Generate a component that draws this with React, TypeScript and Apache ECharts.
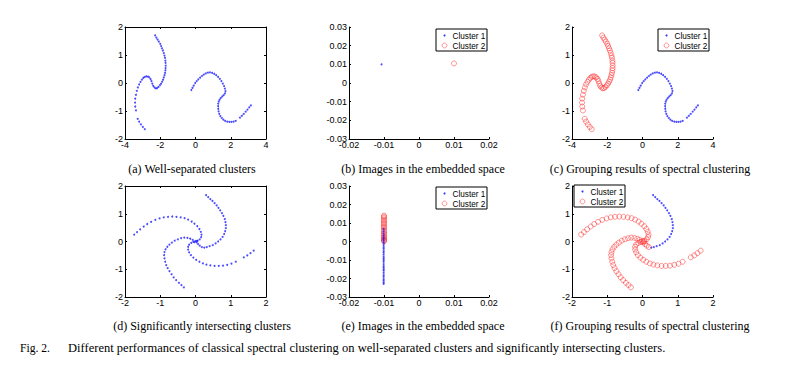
import React, { useEffect, useRef } from "react";
import * as echarts from "echarts";

// ---- data: well-separated clusters (panels a, c) ----
const sepLeft: number[][] = [
  [-2.29, 1.7], [-2.22, 1.62], [-2.15, 1.55], [-2.08, 1.48], [-2.0, 1.4], [-1.95, 1.32], [-1.9, 1.24],
  [-1.85, 1.16], [-1.8, 1.07], [-1.76, 0.98], [-1.73, 0.9], [-1.71, 0.8], [-1.7, 0.72], [-1.69, 0.62],
  [-1.7, 0.53], [-1.71, 0.45], [-1.73, 0.36], [-1.76, 0.28], [-1.8, 0.2], [-1.84, 0.12], [-1.89, 0.05],
  [-1.95, -0.02], [-2.02, -0.08], [-2.1, -0.14], [-2.18, -0.18], [-2.25, -0.19], [-2.33, -0.16],
  [-2.4, -0.1], [-2.45, -0.02], [-2.5, 0.07], [-2.55, 0.14], [-2.62, 0.2], [-2.7, 0.23], [-2.79, 0.24],
  [-2.88, 0.22], [-2.96, 0.18], [-3.04, 0.12], [-3.12, 0.04], [-3.2, -0.05], [-3.27, -0.16],
  [-3.33, -0.28], [-3.38, -0.42], [-3.42, -0.56], [-3.43, -0.7], [-3.42, -0.84], [-3.38, -0.98],
  [-3.28, -1.28], [-3.2, -1.38], [-3.1, -1.48], [-2.99, -1.57], [-2.88, -1.65],
];
const sepRight: number[][] = [
  [-0.24, -0.25], [-0.17, -0.17], [-0.1, -0.09], [-0.02, 0.0], [0.07, 0.07], [0.16, 0.13], [0.26, 0.19],
  [0.36, 0.25], [0.47, 0.3], [0.58, 0.34], [0.7, 0.37], [0.82, 0.38], [0.94, 0.36], [1.06, 0.33],
  [1.17, 0.28], [1.28, 0.22], [1.38, 0.15], [1.47, 0.07], [1.55, -0.02], [1.62, -0.11], [1.67, -0.2],
  [1.7, -0.29], [1.67, -0.37], [1.6, -0.43], [1.52, -0.48], [1.44, -0.53], [1.37, -0.59], [1.32, -0.66],
  [1.29, -0.74], [1.28, -0.83], [1.29, -0.92], [1.31, -1.01], [1.35, -1.1], [1.41, -1.18], [1.49, -1.25],
  [1.58, -1.31], [1.68, -1.35], [1.8, -1.38], [1.92, -1.39], [2.04, -1.39], [2.16, -1.38], [2.28, -1.35],
  [2.52, -1.24], [2.63, -1.17], [2.74, -1.1], [2.85, -1.02], [2.95, -0.95], [3.05, -0.87], [3.14, -0.8],
];

// ---- data: significantly intersecting clusters (panels d, f) ----
const intArmAOuter: number[][] = [
  [0.3, 1.67], [0.36, 1.6], [0.42, 1.53], [0.48, 1.46], [0.54, 1.38], [0.6, 1.3], [0.65, 1.21],
  [0.7, 1.12], [0.75, 1.02], [0.79, 0.92], [0.83, 0.81], [0.85, 0.7], [0.86, 0.59], [0.86, 0.48],
  [0.84, 0.37], [0.81, 0.27], [0.77, 0.17], [0.71, 0.08], [0.64, 0.0], [0.57, -0.07], [0.49, -0.13],
  [0.4, -0.17], [0.32, -0.2], [0.25, -0.22],
];
const intArmAInner: number[][] = [
  [0.18, -0.2], [0.12, -0.15], [0.07, -0.09], [0.03, -0.03], [0.0, 0.02], [0.04, 0.01], [-0.03, -0.02],
];
const intArmB: number[][] = [
  [-1.74, 0.25], [-1.66, 0.34], [-1.57, 0.44], [-1.47, 0.54], [-1.37, 0.63], [-1.26, 0.71], [-1.14, 0.78],
  [-1.02, 0.83], [-0.9, 0.87], [-0.78, 0.89], [-0.66, 0.9], [-0.54, 0.89], [-0.42, 0.87], [-0.31, 0.84],
  [-0.21, 0.79], [-0.11, 0.72], [-0.03, 0.64], [0.05, 0.55], [0.11, 0.45], [0.15, 0.35], [0.17, 0.25],
  [0.16, 0.16], [0.12, 0.08], [0.06, 0.03],
];
const intArmC: number[][] = [
  [1.65, -0.33], [1.56, -0.42], [1.47, -0.5], [1.37, -0.57], [1.14, -0.73], [1.02, -0.8], [0.9, -0.84],
  [0.78, -0.87], [0.66, -0.88], [0.54, -0.88], [0.42, -0.86], [0.31, -0.83], [0.21, -0.79], [0.11, -0.73],
  [0.02, -0.66], [-0.06, -0.58], [-0.13, -0.49], [-0.18, -0.39], [-0.21, -0.29], [-0.21, -0.19],
  [-0.18, -0.11], [-0.12, -0.05], [-0.06, -0.01],
];
const intArmD: number[][] = [
  [-0.33, -1.65], [-0.4, -1.57], [-0.47, -1.49], [-0.55, -1.39], [-0.62, -1.29], [-0.68, -1.18],
  [-0.74, -1.07], [-0.79, -0.96], [-0.83, -0.85], [-0.86, -0.73], [-0.88, -0.61], [-0.89, -0.49],
  [-0.88, -0.38], [-0.85, -0.28], [-0.8, -0.19], [-0.74, -0.11], [-0.67, -0.04], [-0.59, 0.03],
  [-0.5, 0.08], [-0.41, 0.12], [-0.32, 0.14], [-0.23, 0.13], [-0.15, 0.1], [-0.08, 0.06],
];

// ---- data: images in the embedded space (panels b, e) ----
const embedB1: number[][] = [[-0.0107, 0.01]];
const embedB2: number[][] = [[0.01, 0.0105]];
const embedE1: number[][] = [
  [-0.0101, 0.0068], [-0.0101, 0.0055], [-0.0101, 0.0042], [-0.0101, 0.003], [-0.0101, 0.002],
  [-0.0101, 0.0012], [-0.0101, 0.0003], [-0.0101, -0.0008], [-0.0101, -0.0019], [-0.0101, -0.0031],
  [-0.0101, -0.004], [-0.0101, -0.0052], [-0.0101, -0.006], [-0.0101, -0.0071], [-0.0101, -0.0083],
  [-0.0101, -0.0092], [-0.0101, -0.0101], [-0.0101, -0.011], [-0.0101, -0.0122], [-0.0101, -0.0133],
  [-0.0101, -0.0141], [-0.0101, -0.015], [-0.0101, -0.0158], [-0.0101, -0.017], [-0.0101, -0.0182],
  [-0.0101, -0.0191], [-0.0101, -0.0203], [-0.0101, -0.0212], [-0.0101, -0.0221], [-0.0101, -0.0229],
];
const embedE2: number[][] = [
  [-0.01, 0.014], [-0.01, 0.0135], [-0.01, 0.0128], [-0.01, 0.012], [-0.01, 0.0112], [-0.01, 0.0105],
  [-0.01, 0.0098], [-0.01, 0.009], [-0.01, 0.0082], [-0.01, 0.0075], [-0.01, 0.0068], [-0.01, 0.006],
  [-0.01, 0.0052], [-0.01, 0.0045], [-0.01, 0.0038], [-0.01, 0.003], [-0.01, 0.0024], [-0.01, 0.0018],
  [-0.01, 0.0012], [-0.01, 0.0008], [-0.01, 0.0004], [-0.01, 0.0001],
];

// ---- tick labels ----
const sepTicksX = [-4, -2, 0, 2, 4];
const sepTicksY = [-2, -1, 0, 1, 2];
const embTicksX = [-0.02, -0.01, 0, 0.01, 0.02];
const embTicksY = [-0.03, -0.02, -0.01, 0, 0.01, 0.02, 0.03];
const intTicksX = [-2, -1, 0, 1, 2];
const intTicksY = [-2, -1, 0, 1, 2];

const legendNames = ["Cluster 1", "Cluster 2"];
const captions = [
  "(a) Well-separated clusters",
  "(b) Images in the embedded space",
  "(c) Grouping results of spectral clustering",
  "(d) Significantly intersecting clusters",
  "(e) Images in the embedded space",
  "(f) Grouping results of spectral clustering",
];
const figCaptionLabel = "Fig. 2.";
const figCaptionText =
  "Different performances of classical spectral clustering on well-separated clusters and significantly intersecting clusters.";

const SERIF = "'Liberation Serif', 'Times New Roman', serif";
const SANS = "'Liberation Sans', Arial, Helvetica, sans-serif";
const BLUE = "#0000ff";
const RED = "#ff2020";

const grids = [
  { left: 125, top: 27, width: 141, height: 112 },
  { left: 349, top: 27, width: 140, height: 112 },
  { left: 572, top: 27, width: 141, height: 112 },
  { left: 125, top: 186, width: 141, height: 111 },
  { left: 349, top: 186, width: 140, height: 111 },
  { left: 572, top: 186, width: 141, height: 111 },
];
const ticksX = [sepTicksX, embTicksX, sepTicksX, intTicksX, embTicksX, intTicksX];
const ticksY = [sepTicksY, embTicksY, sepTicksY, intTicksY, embTicksY, intTicksY];
const boxed = [true, false, false, true, false, false];

const fmt = (v: number) => String(+Number(v).toFixed(4));

function axis(ticks: number[], gridIndex: number, position: string, showLabel: boolean, isX: boolean) {
  return {
    type: "value",
    gridIndex,
    position,
    min: ticks[0],
    max: ticks[ticks.length - 1],
    interval: +(ticks[1] - ticks[0]).toFixed(6),
    splitLine: { show: false },
    axisLine: { show: true, onZero: false, lineStyle: { color: "#000", width: 1 } },
    axisTick: { show: true, inside: true, length: 2, lineStyle: { color: "#000" } },
    axisLabel: {
      show: showLabel,
      color: "#000",
      fontFamily: SANS,
      fontSize: 9,
      margin: isX ? 1 : 2,
      formatter: fmt,
      showMinLabel: true,
      showMaxLabel: true,
    },
  };
}

function blue(data: number[][], i: number, name?: string) {
  return {
    type: "scatter",
    name,
    xAxisIndex: i,
    yAxisIndex: i,
    data,
    symbol: "circle",
    symbolSize: 2,
    silent: true,
    itemStyle: { color: BLUE, opacity: 0.7 },
  };
}
function red(data: number[][], i: number, name?: string) {
  return {
    type: "scatter",
    name,
    xAxisIndex: i,
    yAxisIndex: i,
    data,
    symbol: "circle",
    symbolSize: 5,
    silent: true,
    itemStyle: { color: "rgba(0,0,0,0)", borderColor: RED, borderWidth: 0.8, opacity: 0.6 },
  };
}

function legendBox(x: number, y: number) {
  return {
    type: "group",
    x,
    y,
    children: [
      { type: "rect", shape: { x: 0, y: 0, width: 51, height: 22 }, style: { fill: "#fff", stroke: "#000", lineWidth: 1 } },
      { type: "circle", shape: { cx: 8.5, cy: 6.5, r: 1 }, style: { fill: BLUE, opacity: 0.8 } },
      { type: "circle", shape: { cx: 8.5, cy: 16.5, r: 2.4 }, style: { fill: "none", stroke: RED, lineWidth: 0.8, opacity: 0.6 } },
      { type: "text", x: 16.5, y: 7, style: { text: legendNames[0], fontFamily: SANS, fontSize: 8.2, fill: "#000", verticalAlign: "middle" } },
      { type: "text", x: 16.5, y: 17, style: { text: legendNames[1], fontFamily: SANS, fontSize: 8.2, fill: "#000", verticalAlign: "middle" } },
    ],
  };
}

function caption(text: string, cx: number, cy: number) {
  return {
    type: "text",
    x: cx,
    y: cy,
    style: { text, fontFamily: SERIF, fontSize: 12, fill: "#000", align: "center", verticalAlign: "middle" },
  };
}

export default function App() {
  const ref = useRef<HTMLDivElement>(null);
  useEffect(() => {
    if (!ref.current) return;
    const chart = echarts.init(ref.current, undefined, { renderer: "svg" });
    const xAxis: any[] = [];
    const yAxis: any[] = [];
    for (let i = 0; i < 6; i++) {
      xAxis.push(axis(ticksX[i], i, "bottom", true, true));
      yAxis.push(axis(ticksY[i], i, "left", true, false));
    }
    for (let i = 0; i < 6; i++) {
      if (boxed[i]) {
        xAxis.push(axis(ticksX[i], i, "top", false, true));
        yAxis.push(axis(ticksY[i], i, "right", false, false));
      }
    }
    const series: any[] = [
      blue(sepLeft, 0),
      blue(sepRight, 0),
      blue(embedB1, 1, legendNames[0]),
      red(embedB2, 1, legendNames[1]),
      blue(sepRight, 2, legendNames[0]),
      red(sepLeft, 2, legendNames[1]),
      blue(intArmAOuter, 3),
      blue(intArmAInner, 3),
      blue(intArmB, 3),
      blue(intArmC, 3),
      blue(intArmD, 3),
      red(embedE2, 4, legendNames[1]),
      blue(embedE1, 4, legendNames[0]),
      blue(intArmAOuter, 5, legendNames[0]),
      red(intArmAInner, 5, legendNames[1]),
      red(intArmB, 5, legendNames[1]),
      red(intArmC, 5, legendNames[1]),
      red(intArmD, 5, legendNames[1]),
    ];
    const graphic: any[] = [
      legendBox(436, 29),
      legendBox(658, 29),
      legendBox(436, 187),
      legendBox(574, 185),
      caption(captions[0], 192, 169),
      caption(captions[1], 423, 169),
      caption(captions[2], 650, 169),
      caption(captions[3], 202, 326),
      caption(captions[4], 423, 326),
      caption(captions[5], 650, 326),
      {
        type: "text",
        x: 20,
        y: 348,
        style: { text: figCaptionLabel, fontFamily: SERIF, fontSize: 11.6, fill: "#000", verticalAlign: "middle" },
      },
      {
        type: "text",
        x: 68,
        y: 348,
        scaleX: 1.045,
        style: { text: figCaptionText, fontFamily: SERIF, fontSize: 12, fill: "#000", verticalAlign: "middle" },
      },
    ];
    chart.setOption({
      animation: false,
      backgroundColor: "#fff",
      grid: grids.map((g) => ({ ...g, containLabel: false })),
      xAxis,
      yAxis,
      series,
      graphic,
    });
    return () => chart.dispose();
  }, []);
  return (
    <div
      ref={ref}
      style={{ position: "fixed", left: 0, top: 0, width: 802, height: 367, background: "#fff" }}
    />
  );
}
